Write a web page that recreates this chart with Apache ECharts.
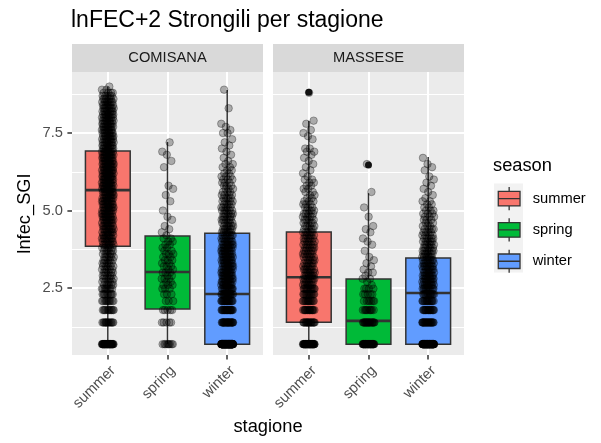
<!DOCTYPE html>
<html><head><meta charset="utf-8">
<script src="https://cdn.jsdelivr.net/npm/echarts@6/dist/echarts.min.js"></script>
<style>html,body{margin:0;padding:0;background:#fff}#c{width:601px;height:443px}</style>
</head><body><div id="c"></div>
<script>
// ---------- data ----------
const chartTitle = 'lnFEC+2 Strongili per stagione';
const yName = 'lnfec_SGI';
const xName = 'stagione';
const legendTitle = 'season';
const facets = ['COMISANA', 'MASSESE'];
const seasons = ['summer', 'spring', 'winter'];
const yTickValues = [2.5, 5.0, 7.5];
const yMinorValues = [1.25, 3.75, 6.25, 8.75];
// box stats: [lower whisker, Q1, median, Q3, upper whisker]
const boxComisana = [[0.69, 3.85, 5.66, 6.92, 9.0], [0.69, 1.82, 3.02, 4.18, 7.21], [0.69, 0.69, 2.31, 4.27, 8.89]];
const boxMassese = [[0.69, 1.40, 2.85, 4.31, 7.89], [0.69, 0.69, 1.44, 2.79, 5.56], [0.69, 0.69, 2.34, 3.47, 6.73]];
const outComisana = [[], [], []];
const outMassese = [[8.82], [6.47], []];
// observed levels of lnFEC+2 and how many jittered points sit at each level
const levels = [0.69, 1.39, 1.79, 2.08, 2.30, 2.48,
  2.6, 2.7, 2.8, 2.9, 3.0, 3.1, 3.2, 3.3, 3.4, 3.5, 3.6, 3.7, 3.8, 3.9,
  4.0, 4.1, 4.2, 4.3, 4.4, 4.5, 4.6, 4.7, 4.8, 4.9,
  5.0, 5.1, 5.2, 5.3, 5.4, 5.5, 5.6, 5.7, 5.8, 5.9,
  6.0, 6.1, 6.2, 6.3, 6.4, 6.5, 6.6, 6.7, 6.8, 6.9,
  7.0, 7.1, 7.2, 7.3, 7.4, 7.5, 7.6, 7.7, 7.8, 7.9,
  8.0, 8.1, 8.2, 8.3, 8.4, 8.5, 8.6, 8.7, 8.8, 8.9, 9.0];
const cntComSummer = [40,14,12,11,10,9,
  5,5,5,5,5,5,5,5,5,5,5,5,5,6,
  7,7,7,7,7,7,7,8,8,8,
  8,8,8,8,8,8,8,9,9,9,
  9,9,9,9,9,9,9,9,9,9,
  8,8,8,8,8,8,8,8,8,8,
  8,8,8,7,7,7,6,5,4,2,1];
const cntComSpring = [9,5,5,3,3,3,
  3,2,3,2,3,2,3,2,3,2,3,2,2,2,
  2,2,1,1,1,1,0,1,1,0,
  1,0,0,1,0,1,0,1,1,0,
  0,0,0,0,1,0,1,0,1,1,
  0,0,1,0,0,0,0,0,0,0,
  0,0,0,0,0,0,0,0,0,0,0];
const cntComWinter = [130,24,22,20,18,14,
  9,9,9,9,9,8,8,8,8,8,8,8,8,8,
  7,6,6,6,6,5,5,5,5,5,
  5,5,4,4,4,4,3,3,3,3,
  3,3,2,2,2,2,1,1,1,1,
  1,1,1,1,0,2,1,1,1,0,
  0,0,0,1,0,0,0,0,0,1,0];
const cntMasSummer = [45,18,16,14,13,12,
  6,6,6,6,6,6,5,5,5,5,5,5,5,5,
  5,5,5,5,4,4,4,4,4,4,
  4,3,3,3,2,2,2,2,2,2,
  2,1,1,1,1,1,1,1,1,2,
  2,0,0,1,1,1,1,0,1,1,
  0,0,0,0,0,0,0,0,1,0,0];
const cntMasSpring = [40,20,10,7,5,4,
  1,1,2,1,2,1,1,1,1,1,0,1,0,1,
  1,1,0,1,1,1,0,0,1,0,
  0,1,0,0,0,0,1,0,0,0,
  0,0,0,0,0,1,0,0,0,0,
  0,0,0,0,0,0,0,0,0,0,
  0,0,0,0,0,0,0,0,0,0,0];
const cntMasWinter = [80,22,18,16,14,12,
  8,8,8,8,7,7,7,7,6,6,6,6,5,5,
  5,5,4,4,4,3,3,3,3,3,
  3,2,2,2,1,1,1,1,1,1,
  1,1,0,1,1,1,0,1,0,0,
  0,0,0,0,0,0,0,0,0,0,
  0,0,0,0,0,0,0,0,0,0,0];

// ---------- layout / style ----------
const FONT = '"Liberation Sans", Arial, sans-serif';
const seasonColors = ['#F8766D', '#00BA38', '#619CFF'];
const panelLeft = [72, 273], panelTop = 72, panelW = 191, panelH = 283, stripH = 28;
const yMin = 0.34, yMax = 9.47;
const JIT = 0.1;
const boxStats = [boxComisana, boxMassese];
const outliers = [outComisana, outMassese];
const counts = [[cntComSummer, cntComSpring, cntComWinter], [cntMasSummer, cntMasSpring, cntMasWinter]];

function jitterPoints(cnt, catIdx) {
  const pts = [];
  let k = 0;
  cnt.forEach((n, li) => {
    for (let j = 0; j < n; j++) {
      const u = ((k + 1) * 0.6180339887) % 1;
      pts.push([catIdx + 1 + (u - 0.5) * 2 * JIT, levels[li]]);
      k++;
    }
  });
  return pts;
}

function boxRender(color) {
  return function (params, api) {
    const x = api.value(0);
    const p = [1, 2, 3, 4, 5].map(k => api.coord([x, api.value(k)]));
    const w = api.size([0.75, 0])[0];
    const cx = p[0][0];
    const lw = 1.5;
    return {
      type: 'group', children: [
        { type: 'line', shape: { x1: cx, y1: p[0][1], x2: cx, y2: p[1][1] }, style: { stroke: '#333', lineWidth: lw } },
        { type: 'line', shape: { x1: cx, y1: p[3][1], x2: cx, y2: p[4][1] }, style: { stroke: '#333', lineWidth: lw } },
        { type: 'rect', shape: { x: cx - w / 2, y: p[3][1], width: w, height: p[1][1] - p[3][1] }, style: { fill: color, stroke: '#333', lineWidth: lw } },
        { type: 'line', shape: { x1: cx - w / 2, y1: p[2][1], x2: cx + w / 2, y2: p[2][1] }, style: { stroke: '#333', lineWidth: 2.6 } }
      ]
    };
  };
}

const grids = panelLeft.map(l => ({ left: l, top: panelTop, width: panelW, height: panelH, show: true, backgroundColor: '#EBEBEB', borderWidth: 0 }));
const xAxes = [0, 1].map(i => ({
  type: 'value', gridIndex: i, min: 0.4, max: 3.6,
  axisLine: { show: false },
  axisTick: { show: true, customValues: [1, 2, 3], length: 4.6, lineStyle: { color: '#333', width: 1.5 } },
  axisLabel: { customValues: [1, 2, 3], formatter: v => seasons[Math.round(v) - 1], rotate: 45, align: 'right', verticalAlign: 'top', margin: 8, fontSize: 14.7, color: '#4D4D4D', fontFamily: FONT },
  splitLine: { show: true, lineStyle: { color: '#FFFFFF', width: 2 } }
}));
const yAxes = [];
[0, 1].forEach(i => {
  yAxes.push({
    type: 'value', gridIndex: i, min: yMin, max: yMax, position: 'left',
    axisLine: { show: false },
    axisTick: { show: i === 0, customValues: yTickValues, length: 4.6, lineStyle: { color: '#333', width: 1.5 } },
    axisLabel: { show: i === 0, customValues: yTickValues, formatter: v => v.toFixed(1), margin: 9, fontSize: 14.7, color: '#4D4D4D', fontFamily: FONT },
    splitLine: { show: true, lineStyle: { color: '#FFFFFF', width: 2 } },
    name: i === 0 ? yName : '', nameLocation: 'middle', nameGap: 38,
    nameTextStyle: { fontSize: 18.3, color: '#000', fontFamily: FONT }
  });
  yAxes.push({
    type: 'value', gridIndex: i, min: yMin, max: yMax,
    axisLine: { show: false },
    axisTick: { show: false, customValues: yMinorValues },
    axisLabel: { show: false },
    splitLine: { show: true, lineStyle: { color: '#FFFFFF', width: 1 } }
  });
});

const series = [];
[0, 1].forEach(f => {
  seasons.forEach((s, si) => {
    series.push({
      type: 'custom', name: s, xAxisIndex: f, yAxisIndex: 2 * f, z: 2, silent: true,
      renderItem: boxRender(seasonColors[si]),
      data: [[si + 1].concat(boxStats[f][si])],
      encode: { x: 0, y: [1, 2, 3, 4, 5] },
      itemStyle: { color: seasonColors[si] }
    });
  });
  const outData = [];
  outliers[f].forEach((arr, si) => arr.forEach(v => outData.push([si + 1, v])));
  series.push({
    type: 'scatter', xAxisIndex: f, yAxisIndex: 2 * f, z: 3, silent: true,
    symbolSize: 7, itemStyle: { color: '#1A1A1A', opacity: 1 }, data: outData
  });
  let pts = [];
  counts[f].forEach((cnt, si) => { pts = pts.concat(jitterPoints(cnt, si)); });
  series.push({
    type: 'scatter', xAxisIndex: f, yAxisIndex: 2 * f, z: 4, silent: true, large: false,
    symbolSize: 7.5, itemStyle: { color: 'rgba(0,0,0,0.34)', borderColor: 'rgba(0,0,0,0.42)', borderWidth: 0.9 },
    data: pts
  });
});

const legendIcon = 'path://M0,0M28,28M14,2.8L14,7M14,21L14,25.2M3.5,7L24.5,7L24.5,21L3.5,21ZM3.5,14L24.5,14';
const graphics = [];
facets.forEach((name, i) => {
  graphics.push({ type: 'rect', z: 10, shape: { x: panelLeft[i], y: panelTop - stripH, width: panelW, height: stripH }, style: { fill: '#D9D9D9' } });
  graphics.push({ type: 'text', z: 11, x: panelLeft[i] + panelW / 2, y: panelTop - stripH / 2, style: { text: name, fill: '#1A1A1A', fontSize: 14.7, fontFamily: FONT, align: 'center', verticalAlign: 'middle' } });
});
graphics.push({ type: 'text', z: 11, x: (panelLeft[0] + panelLeft[1] + panelW) / 2, y: 427, style: { text: xName, fill: '#000', fontSize: 18.3, fontFamily: FONT, align: 'center', verticalAlign: 'middle' } });
graphics.push({ type: 'text', z: 11, x: 493, y: 166, style: { text: legendTitle, fill: '#000', fontSize: 18.3, fontFamily: FONT, align: 'left', verticalAlign: 'middle' } });
graphics.push({ type: 'rect', z: 0, shape: { x: 494, y: 183.5, width: 29, height: 89 }, style: { fill: '#F2F2F2' } });

const chart = echarts.init(document.getElementById('c'), null, { renderer: 'canvas' });
chart.setOption({
  animation: false,
  backgroundColor: '#FFFFFF',
  textStyle: { fontFamily: FONT },
  title: { text: chartTitle, left: 71, top: 9, padding: 0, textStyle: { fontSize: 23, fontWeight: 'normal', color: '#000', fontFamily: FONT } },
  legend: {
    orient: 'vertical', left: 494, top: 183.5, padding: 0, itemWidth: 29, itemHeight: 29, itemGap: 1, z: 20,
    selectedMode: false,
    data: seasons.map((s, i) => ({ name: s, icon: legendIcon, itemStyle: { color: seasonColors[i], borderColor: '#333', borderWidth: 1.3 } })),
    textStyle: { fontSize: 14.7, color: '#000', fontFamily: FONT, padding: [0, 0, 0, 4] }
  },
  grid: grids,
  xAxis: xAxes,
  yAxis: yAxes,
  series: series,
  graphic: graphics
});
</script></body></html>
